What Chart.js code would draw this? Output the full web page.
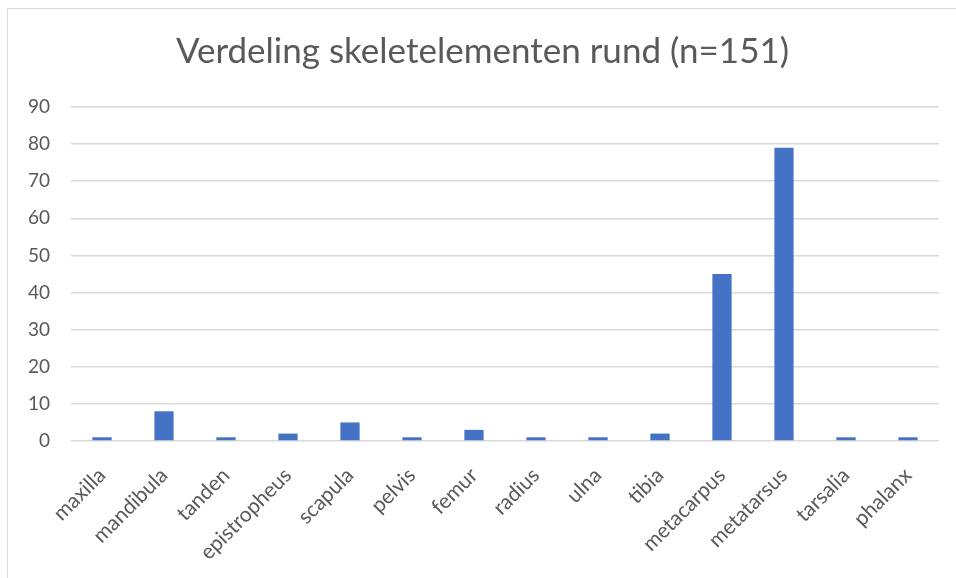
<!DOCTYPE html>
<html>
<head>
<meta charset="utf-8">
<script src="https://cdn.jsdelivr.net/npm/chart.js@4"></script>
<style>
    html, body { margin: 0; padding: 0; background: #fff; overflow: hidden; }
    .frame {
        position: absolute;
        left: 7px;
        top: 8px;
        width: 960px;
        height: 580px;
        border: 1px solid #d9d9d9;
        box-sizing: border-box;
    }
    .frame canvas { display: block; }
</style>
</head>
<body>
<div class="frame">
    <canvas id="skeletChart" width="949" height="570"></canvas>
</div>
<script>
const elements = ['maxilla', 'mandibula', 'tanden', 'epistropheus', 'scapula', 'pelvis', 'femur',
    'radius', 'ulna', 'tibia', 'metacarpus', 'metatarsus', 'tarsalia', 'phalanx']
const counts = [1, 8, 1, 2, 5, 1, 3, 1, 1, 2, 45, 79, 1, 1]
const yTicks = [0, 10, 20, 30, 40, 50, 60, 70, 80, 90]

const init = () => {
    const ctx = document.getElementById('skeletChart')
    const fontFamily = 'Lato, "Open Sans", sans-serif'

    new Chart(ctx, {
        type: 'bar',
        data: {
            labels: elements,
            datasets: [
                {
                    label: 'Aantal',
                    data: counts,
                    backgroundColor: '#4472c4',
                    borderWidth: 0,
                    barPercentage: 0.31,
                    categoryPercentage: 1,
                }
            ]
        },
        options: {
            responsive: false,
            animation: false,
            layout: {
                padding: {left: 18, right: 18, top: 22, bottom: 4}
            },
            plugins: {
                legend: {display: false},
                tooltip: {enabled: false},
                title: {
                    display: true,
                    text: 'Verdeling skeletelementen rund (n=151)',
                    color: '#595959',
                    font: {family: fontFamily, size: 35, weight: 'normal'},
                    padding: {top: 0, bottom: 34}
                }
            },
            scales: {
                x: {
                    grid: {display: false, drawTicks: false},
                    border: {display: false},
                    afterFit: (axis) => { axis.height = 134 },
                    ticks: {
                        color: '#595959',
                        font: {family: fontFamily, size: 21},
                        maxRotation: 45,
                        minRotation: 45,
                        padding: 22,
                        autoSkip: false
                    }
                },
                y: {
                    min: 0,
                    max: yTicks[yTicks.length - 1],
                    afterBuildTicks: (axis) => {
                        axis.ticks = yTicks.map(v => ({value: v}))
                    },
                    afterFit: (axis) => { axis.width = 45 },
                    grid: {color: '#d9d9d9', lineWidth: 1.5, drawTicks: false},
                    border: {display: false},
                    ticks: {
                        color: '#595959',
                        font: {family: fontFamily, size: 19},
                        padding: 21
                    }
                }
            }
        }
    })
}

document.addEventListener('DOMContentLoaded', init)
</script>
</body>
</html>
